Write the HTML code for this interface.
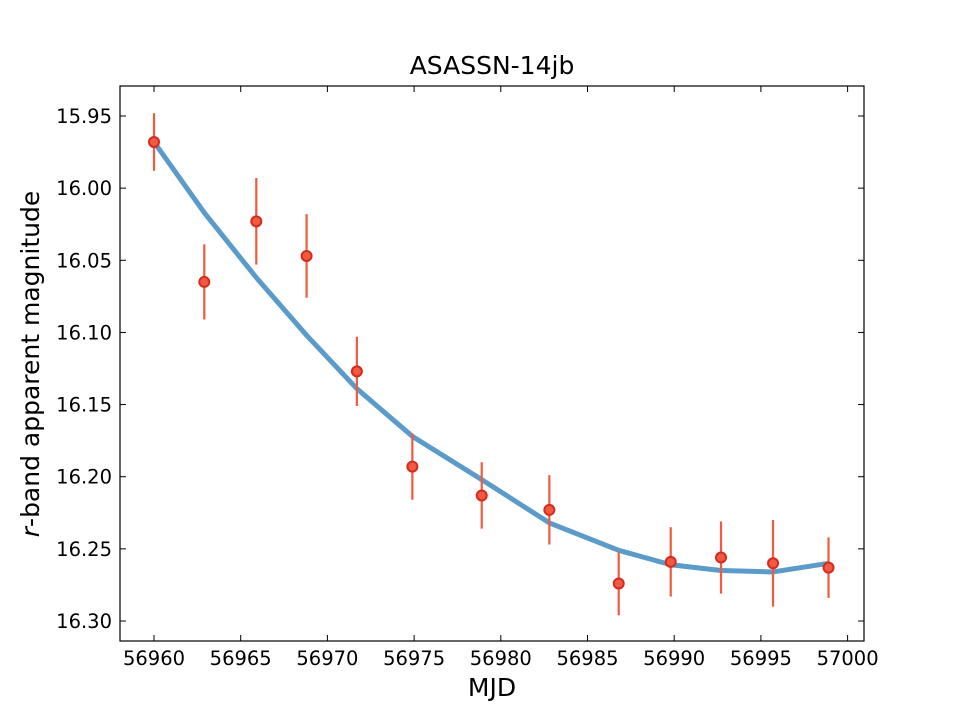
<!DOCTYPE html>
<html><head><meta charset="utf-8"><style>
body{margin:0;background:#fff;}
svg text{font-family:"DejaVu Sans","Liberation Sans",sans-serif;fill:#000;}
</style></head><body>
<svg id="chart" width="960" height="720">
<text x="492" y="74" font-size="25" text-anchor="middle">ASASSN-14jb</text>
<text x="492" y="696" font-size="25" text-anchor="middle">MJD</text>
<text transform="translate(39,364) rotate(-90)" font-size="25" text-anchor="middle"><tspan font-style="italic">r</tspan>-band apparent magnitude</text>
<g id="ticks"></g><g id="marks"></g>
<rect x="120" y="86" width="744" height="555" fill="none" stroke="#000" stroke-width="1.2"/>
</svg>
<script>
const mjd=[56960.0,56962.9,56965.9,56968.8,56971.7,56974.9,56978.9,56982.8,56986.8,56989.8,56992.7,56995.7,56998.9];
const mag=[15.968,16.065,16.023,16.047,16.127,16.193,16.213,16.223,16.274,16.259,16.256,16.260,16.263];
const err=[0.020,0.026,0.030,0.029,0.024,0.023,0.023,0.024,0.022,0.024,0.025,0.030,0.021];
const fit=[15.968,16.017,16.062,16.102,16.139,16.172,16.202,16.232,16.251,16.261,16.265,16.266,16.260];
const xTicks=[56960,56965,56970,56975,56980,56985,56990,56995,57000];
const yTicks=[15.95,16.00,16.05,16.10,16.15,16.20,16.25,16.30];
const X=v=>154+(v-56960)*17.34;
const Y=v=>116+(v-15.95)*1442.9;
const ns="http://www.w3.org/2000/svg";
function mk(p,t,a){const e=document.createElementNS(ns,t);for(const k in a)e.setAttribute(k,a[k]);p.appendChild(e);return e;}
const tg=document.getElementById('ticks'),mg=document.getElementById('marks');
xTicks.forEach(v=>{const x=X(v);
const b=mk(tg,'line',{x1:x,x2:x,y1:641,y2:635,stroke:'#000'});


const t=mk(tg,'line',{x1:x,x2:x,y1:86,y2:92,stroke:'#000'});


const l=mk(tg,'text',{x:x,y:665,'font-size':19.5,'text-anchor':'middle'});l.textContent=v;

});
yTicks.forEach(v=>{const y=Y(v);
const a=mk(tg,'line',{x1:120,x2:126,y1:y,y2:y,stroke:'#000'});


const r=mk(tg,'line',{x1:864,x2:858,y1:y,y2:y,stroke:'#000'});


const l=mk(tg,'text',{x:112,y:y+7,'font-size':19.5,'text-anchor':'end'});l.textContent=v.toFixed(2);

});
const fl=mk(mg,'polyline',{points:mjd.map((m,i)=>X(m)+','+Y(fit[i])).join(' '),fill:'none',stroke:'#5b9bca',"stroke-width":5,"stroke-linejoin":'round'});


mjd.forEach((m,i)=>{const x=X(m);
const e=mk(mg,'line',{x1:x,x2:x,y1:Y(mag[i]-err[i]),y2:Y(mag[i]+err[i]),stroke:'#f05a40','stroke-width':2.2});


const c=mk(mg,'circle',{cx:x,cy:Y(mag[i]),r:5,fill:'#f05a40',stroke:'#d42a20','stroke-width':2});

});
</script>
</body></html>
